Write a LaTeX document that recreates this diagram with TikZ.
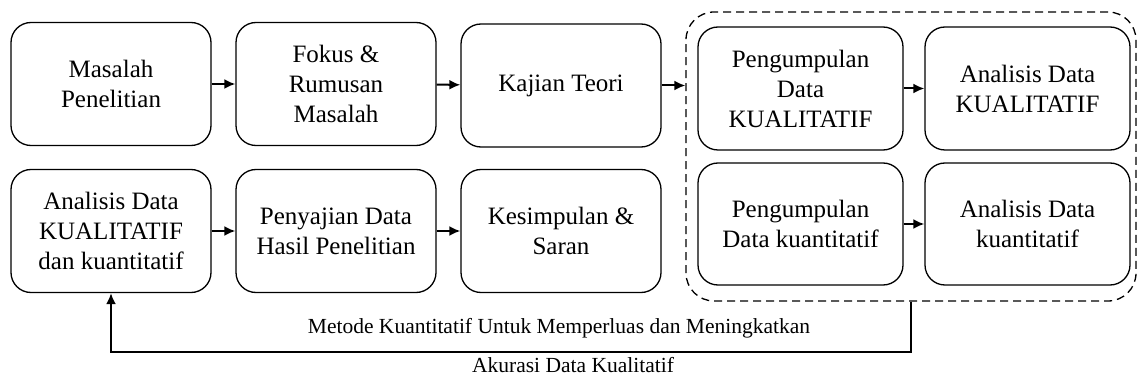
\documentclass[tikz,border=0pt]{standalone}
\usepackage{fontspec}
\setmainfont{Liberation Serif}
\usetikzlibrary{arrows.meta}

\begin{document}
\begin{tikzpicture}[x=1pt, y=-1pt,
    kotak/.style={draw, line width=1.3pt, rounded corners=20pt, minimum width=200pt, minimum height=123pt, align=center, font=\fontsize{25}{30}\selectfont},
    panah/.style={line width=2pt, -{Latex[length=11pt,width=10pt]}},
    ket/.style={font=\fontsize{21.5}{24}\selectfont}]
    \useasboundingbox (0,0) rectangle (1138,382);

    % Kelompok data (garis putus-putus)
    \node[draw, dash pattern=on 8pt off 5pt, line width=1.3pt, rounded corners=28pt, minimum width=450pt, minimum height=289pt] (grup) at (911,156.5) {};

    % Baris atas
    \node[kotak] (masalah) at (111,84) {Masalah\\Penelitian};
    \node[kotak] (fokus) at (336,84) {Fokus \&\\Rumusan\\Masalah};
    \node[kotak] (teori) at (561,85.5) {Kajian Teori};
    \node[kotak, minimum width=205pt] (kumpulKual) at (800.5,88.5) {Pengumpulan\\Data\\KUALITATIF};
    \node[kotak, minimum width=205pt] (analisisKual) at (1027.5,88.5) {Analisis Data\\KUALITATIF};

    % Baris bawah
    \node[kotak] (analisisGab) at (111,231) {Analisis Data\\KUALITATIF\\dan kuantitatif};
    \node[kotak] (sajian) at (336,231) {Penyajian Data\\Hasil Penelitian};
    \node[kotak] (simpulan) at (561,231) {Kesimpulan \&\\Saran};
    \node[kotak, minimum width=205pt, minimum height=122pt] (kumpulKuan) at (800.5,224) {Pengumpulan\\Data kuantitatif};
    \node[kotak, minimum width=205pt, minimum height=122pt] (analisisKuan) at (1027.5,224) {Analisis Data\\kuantitatif};

    % Panah
    \draw[panah] (masalah) -- (fokus);
    \draw[panah] (fokus) -- (teori);
    \draw[panah] (teori.east) -- (teori.east -| grup.west);
    \draw[panah] (kumpulKual) -- (analisisKual);
    \draw[panah] (kumpulKuan) -- (analisisKuan);
    \draw[panah] (analisisGab) -- (sajian);
    \draw[panah] (sajian) -- (simpulan);

    % Umpan balik
    \coordinate (balik) at (111,352);
    \draw[panah] (grup.south) |- (balik) -- (analisisGab.south);
    \node[ket] (ket1) at (559,328) {Metode Kuantitatif Untuk Memperluas dan Meningkatkan};
    \node[ket] (ket2) at (573,365) {Akurasi Data Kualitatif};
\end{tikzpicture}
\end{document}
